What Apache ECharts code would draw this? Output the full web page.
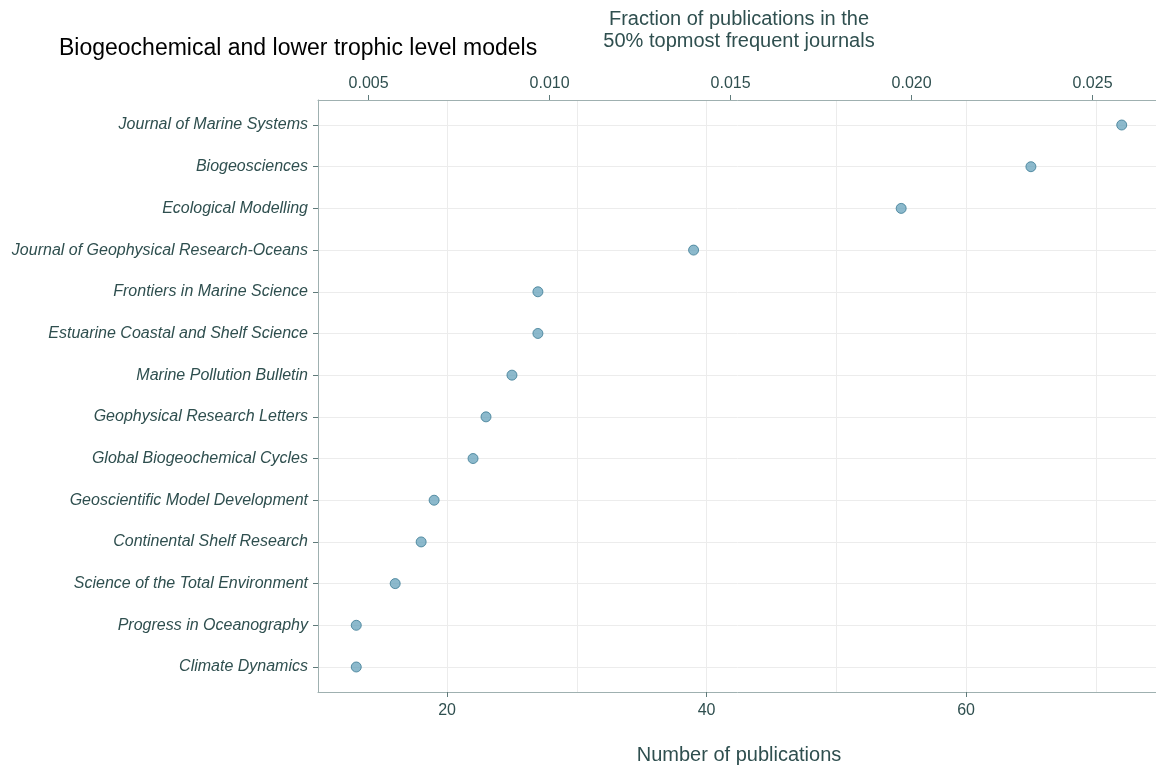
<!DOCTYPE html>
<html>
<head>
<meta charset="utf-8">
<script src="https://cdn.jsdelivr.net/npm/echarts@6/dist/echarts.min.js"></script>
<style>html,body{margin:0;padding:0;background:#fff}#c{width:1156px;height:769px}</style>
</head>
<body>
<div id="c"></div>
<script>
const journals = [
  'Journal of Marine Systems',
  'Biogeosciences',
  'Ecological Modelling',
  'Journal of Geophysical Research-Oceans',
  'Frontiers in Marine Science',
  'Estuarine Coastal and Shelf Science',
  'Marine Pollution Bulletin',
  'Geophysical Research Letters',
  'Global Biogeochemical Cycles',
  'Geoscientific Model Development',
  'Continental Shelf Research',
  'Science of the Total Environment',
  'Progress in Oceanography',
  'Climate Dynamics'
];
const publications = [72, 65, 55, 39, 27, 27, 25, 23, 22, 19, 18, 16, 13, 13];
const totalPublications = 2790;
const countTicks = [20, 40, 60];
const countGrid = [20, 30, 40, 50, 60, 70];
const fractionTicks = [0.005, 0.010, 0.015, 0.020, 0.025];

const xMin = 10.05, xMax = 74.95;
const txt = '#2f4f4f';
const axisCol = '#9fb0b0';
const font = 'Liberation Sans, Arial, Helvetica, sans-serif';
const idx = journals.map((_, i) => i);

const chart = echarts.init(document.getElementById('c'));
chart.setOption({
  backgroundColor: '#fff',
  animation: false,
  title: {
    text: 'Biogeochemical and lower trophic level models',
    left: 54, top: 32,
    textStyle: { fontFamily: font, fontSize: 23, fontWeight: 'normal', color: '#000' }
  },
  grid: { left: 318, top: 100, width: 842, height: 592, outerBoundsMode: 'none', containLabel: false },
  xAxis: [
    {
      type: 'value', position: 'bottom', min: xMin, max: xMax,
      name: 'Number of publications', nameLocation: 'middle', nameGap: 53,
      nameTextStyle: { fontFamily: font, fontSize: 20, color: txt },
      axisLine: { show: true, onZero: false, lineStyle: { color: axisCol, width: 1 } },
      axisTick: { show: true, length: 5, customValues: countTicks, lineStyle: { color: '#5f7a7a' } },
      axisLabel: { customValues: countTicks, margin: 11, fontFamily: font, fontSize: 16, color: txt },
      splitLine: { show: false }
    },
    {
      type: 'value', position: 'top', min: xMin / totalPublications, max: xMax / totalPublications,
      name: 'Fraction of publications in the\n50% topmost frequent journals', nameLocation: 'middle', nameGap: 48,
      nameTextStyle: { fontFamily: font, fontSize: 20, color: txt, lineHeight: 22 },
      axisLine: { show: true, onZero: false, lineStyle: { color: axisCol, width: 1 } },
      axisTick: { show: true, length: 5, customValues: fractionTicks, lineStyle: { color: '#5f7a7a' } },
      axisLabel: { customValues: fractionTicks, margin: 8, fontFamily: font, fontSize: 16, color: txt,
        formatter: v => v.toFixed(3) },
      splitLine: { show: false }
    },
    {
      type: 'value', position: 'bottom', min: xMin, max: xMax,
      axisLine: { show: false, onZero: false }, axisLabel: { show: false },
      axisTick: { show: false, customValues: countGrid },
      splitLine: { show: true, lineStyle: { color: '#ececec', width: 1 } }
    }
  ],
  yAxis: {
    type: 'value', min: -0.6, max: 13.6, inverse: true,
    axisLine: { show: true, onZero: false, lineStyle: { color: axisCol, width: 1 } },
    axisTick: { show: true, length: 5, customValues: idx, lineStyle: { color: '#5f7a7a' } },
    axisLabel: { customValues: idx, margin: 10, fontFamily: font, fontSize: 16, fontStyle: 'italic', color: txt,
      formatter: v => journals[Math.round(v)] },
    splitLine: { show: true, lineStyle: { color: '#ececec', width: 1 } }
  },
  series: [{
    type: 'scatter', xAxisIndex: 0,
    data: publications.map((v, i) => [v, i]),
    symbolSize: 10,
    itemStyle: { color: '#6fa8bf', borderColor: '#3b7a93', borderWidth: 1 }
  }]
});
</script>
</body>
</html>
